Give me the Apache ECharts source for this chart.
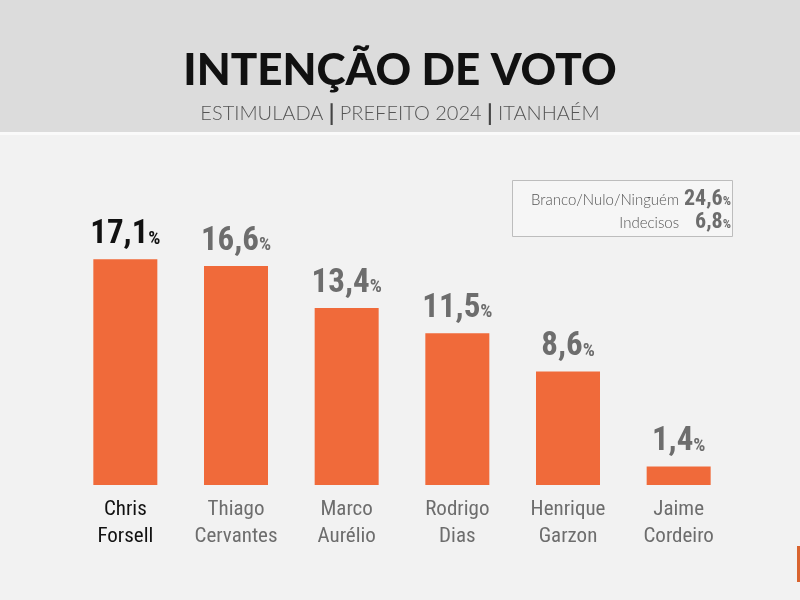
<!DOCTYPE html>
<html>
<head>
<meta charset="utf-8">
<script src="https://cdn.jsdelivr.net/npm/echarts@6/dist/echarts.min.js"></script>
<style>
  html, body { margin: 0; padding: 0; background: #f2f2f2; }
  #chart { width: 800px; height: 600px; }
</style>
</head>
<body>
<div id="chart"></div>
<script>
// candidatos e percentuais
const candidatos = ['Chris\nForsell', 'Thiago\nCervantes', 'Marco\nAurélio', 'Rodrigo\nDias', 'Henrique\nGarzon', 'Jaime\nCordeiro']
const percentuais = [17.1, 16.6, 13.4, 11.5, 8.6, 1.4]
// caixa à direita
const outrosNomes = ['Branco/Nulo/Ninguém', 'Indecisos']
const outrosValores = [24.6, 6.8]

const narrow = '"Noto Sans ExtraCondensed", "Noto Sans Condensed", "Roboto Condensed", "Liberation Sans Narrow", "Arial Narrow", Roboto, sans-serif'
const laranja = '#f06a3a'
const cinza = '#6d6d6d'

const fmt = v => v.toFixed(1).replace('.', ',')

let myEcharts = echarts.init(document.getElementById('chart'))
myEcharts.setOption({
  backgroundColor: '#f2f2f2',
  title: {
    text: 'INTENÇÃO DE VOTO',
    left: 'center',
    top: 44,
    textStyle: {
      fontFamily: 'Lato, sans-serif',
      fontWeight: 900,
      fontSize: 44,
      color: '#111'
    },
    subtext: '{t|ESTIMULADA}{s| | }{t|PREFEITO 2024}{s| | }{t|ITANHAÉM}',
    itemGap: 10,
    subtextStyle: {
      rich: {
        t: { fontFamily: 'Lato, sans-serif', fontWeight: 300, fontSize: 20, color: '#555' },
        s: { fontFamily: 'Lato, sans-serif', fontWeight: 'bold', fontSize: 22, color: '#444' }
      }
    }
  },
  graphic: [
    // faixa cinza do cabeçalho
    { type: 'rect', z: -10, shape: { x: 0, y: 0, width: 800, height: 132 }, style: { fill: '#dcdcdc' } },
    { type: 'rect', z: -10, shape: { x: 0, y: 132, width: 800, height: 3 }, style: { fill: '#fafafa' } },
    // caixa branco/nulo/indecisos
    { type: 'rect', shape: { x: 512.5, y: 180.5, width: 220, height: 56 }, style: { fill: '#f6f6f6', stroke: '#bdbdbd', lineWidth: 1 } },
    { type: 'text', style: { x: 679, y: 200, text: outrosNomes[0], textAlign: 'right', textVerticalAlign: 'middle', font: '300 15px Lato, sans-serif', fill: '#555' } },
    { type: 'text', style: { x: 679, y: 223, text: outrosNomes[1], textAlign: 'right', textVerticalAlign: 'middle', font: '300 15px Lato, sans-serif', fill: '#555' } },
    {
      type: 'text',
      style: {
        x: 731, y: 199, textAlign: 'right', textVerticalAlign: 'middle',
        text: '{n|' + fmt(outrosValores[0]) + '}{p|%}',
        rich: { n: { font: 'bold 22px ' + narrow, fill: cinza }, p: { font: 'bold 13px ' + narrow, fill: cinza, padding: [5, 0, 0, 0] } }
      }
    },
    {
      type: 'text',
      style: {
        x: 731, y: 222, textAlign: 'right', textVerticalAlign: 'middle',
        text: '{n|' + fmt(outrosValores[1]) + '}{p|%}',
        rich: { n: { font: 'bold 22px ' + narrow, fill: cinza }, p: { font: 'bold 13px ' + narrow, fill: cinza, padding: [5, 0, 0, 0] } }
      }
    },
    // marca laranja no canto
    { type: 'rect', shape: { x: 797, y: 546, width: 3, height: 36 }, style: { fill: '#d9642f' } }
  ],
  grid: {
    left: 70,
    right: 66,
    top: 221,
    bottom: 115
  },
  xAxis: {
    type: 'category',
    data: candidatos,
    axisLine: { show: false },
    axisTick: { show: false },
    axisLabel: {
      margin: 11,
      formatter: (value, index) => {
        const tag = index === 0 ? 'a' : 'b'
        return value.split('\n').map(l => '{' + tag + '|' + l + '}').join('\n')
      },
      rich: {
        a: { fontFamily: narrow, fontSize: 21, color: '#111', lineHeight: 27 },
        b: { fontFamily: narrow, fontSize: 21, color: cinza, lineHeight: 27 }
      }
    }
  },
  yAxis: {
    type: 'value',
    min: 0,
    max: 20,
    show: false
  },
  series: [
    {
      type: 'bar',
      data: percentuais,
      barWidth: 64,
      itemStyle: { color: laranja },
      label: {
        show: true,
        position: 'top',
        distance: 8,
        formatter: p => {
          const k = p.dataIndex === 0 ? 'a' : 'b'
          return '{n' + k + '|' + fmt(p.value) + '}{p' + k + '|%}'
        },
        rich: {
          na: { fontFamily: narrow, fontWeight: 'bold', fontSize: 33, color: '#111' },
          pa: { fontFamily: narrow, fontWeight: 'bold', fontSize: 19, color: '#111', padding: [8, 0, 0, 0] },
          nb: { fontFamily: narrow, fontWeight: 'bold', fontSize: 33, color: cinza },
          pb: { fontFamily: narrow, fontWeight: 'bold', fontSize: 19, color: cinza, padding: [8, 0, 0, 0] }
        }
      }
    }
  ]
})
</script>
</body>
</html>
